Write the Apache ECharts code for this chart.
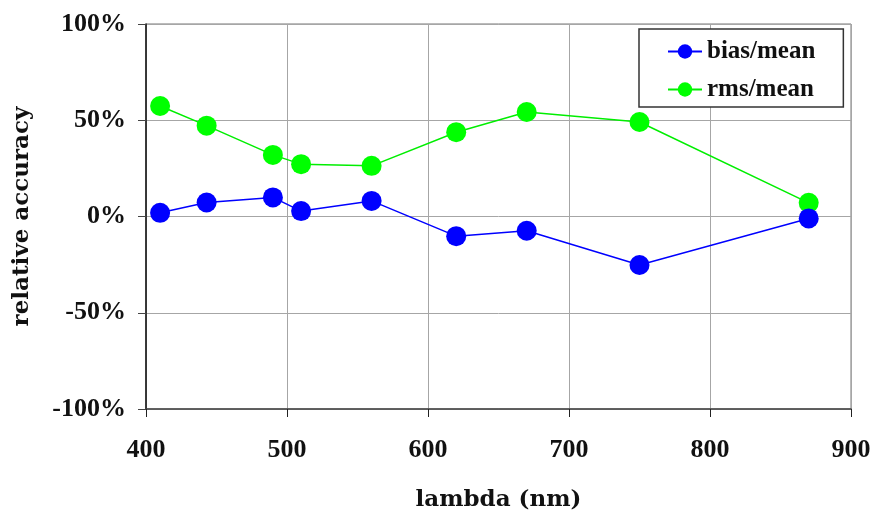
<!DOCTYPE html>
<html>
<head>
<meta charset="utf-8">
<script src="https://cdn.jsdelivr.net/npm/echarts@6/dist/echarts.min.js"></script>
<style>
  html, body { margin: 0; padding: 0; background: #fff; }
  #chart { width: 874px; height: 521px; }
</style>
</head>
<body>
<div id="chart"></div>
<script>
// wavelengths (nm)
var lambdas = [410, 443, 490, 510, 560, 620, 670, 750, 870];
// relative accuracy in percent
var biasMean = [1.9, 7.3, 9.9, 2.8, 8.1, -10.2, -7.4, -25.2, -1.0];
var rmsMean = [57.4, 47.2, 32.0, 27.2, 26.3, 43.8, 54.3, 49.1, 7.1];
var seriesNames = ['bias/mean', 'rms/mean'];

function pairs(xs, ys) {
  var out = [];
  for (var i = 0; i < xs.length; i++) out.push([xs[i], ys[i]]);
  return out;
}

var font = '"Liberation Serif", "DejaVu Serif", serif';
var wideFont = '"DejaVu Serif", "Liberation Serif", serif';

var chart = echarts.init(document.getElementById('chart'), null, { renderer: 'canvas' });

var option = {
  animation: false,
  backgroundColor: '#fff',
  grid: {
    left: 146, right: 23, top: 24, bottom: 112,
    show: true, borderColor: '#777', borderWidth: 1
  },
  legend: {
    orient: 'vertical',
    left: 639, top: 29,
    padding: [10, 28, 5, 28],
    itemGap: 13,
    itemWidth: 34, itemHeight: 18,
    borderColor: '#333', borderWidth: 1.5,
    backgroundColor: '#fff',
    textStyle: { fontFamily: font, fontWeight: 'bold', fontSize: 25, color: '#111' },
    data: seriesNames
  },
  xAxis: {
    type: 'value',
    min: 400, max: 900, interval: 100,
    name: 'lambda (nm)',
    nameLocation: 'middle',
    nameGap: 80,
    nameTextStyle: { fontFamily: wideFont, fontWeight: 'bold', fontSize: 23, color: '#111' },
    axisLine: { show: true, onZero: false, lineStyle: { color: '#444', width: 1.5 } },
    axisTick: { show: true, inside: false, length: 8, lineStyle: { color: '#222' } },
    axisLabel: { margin: 28, fontFamily: font, fontWeight: 'bold', fontSize: 26, color: '#111' },
    splitLine: { show: true, lineStyle: { color: '#a6a6a6', width: 1 } }
  },
  yAxis: {
    type: 'value',
    min: -100, max: 100, interval: 50,
    name: 'relative accuracy',
    nameLocation: 'middle',
    nameGap: 112,
    nameTextStyle: { fontFamily: wideFont, fontWeight: 'bold', fontSize: 23, color: '#111' },
    axisLine: { show: true, onZero: false, lineStyle: { color: '#111', width: 1.5 } },
    axisTick: { show: true, inside: false, length: 8, lineStyle: { color: '#444' } },
    axisLabel: {
      margin: 20, fontFamily: font, fontWeight: 'bold', fontSize: 26, color: '#111',
      formatter: '{value}%'
    },
    splitLine: { show: true, lineStyle: { color: '#a6a6a6', width: 1 } }
  },
  series: [
    {
      name: seriesNames[0],
      type: 'line',
      data: pairs(lambdas, biasMean),
      symbol: 'circle',
      symbolSize: 20,
      color: '#0000ff',
      lineStyle: { color: '#0000ff', width: 1.5 },
      itemStyle: { color: '#0000ff' },
      z: 3
    },
    {
      name: seriesNames[1],
      type: 'line',
      data: pairs(lambdas, rmsMean),
      symbol: 'circle',
      symbolSize: 20,
      color: '#00ff00',
      lineStyle: { color: '#00ee00', width: 1.5 },
      itemStyle: { color: '#00ff00' },
      z: 2
    }
  ]
};

chart.setOption(option);
</script>
</body>
</html>
